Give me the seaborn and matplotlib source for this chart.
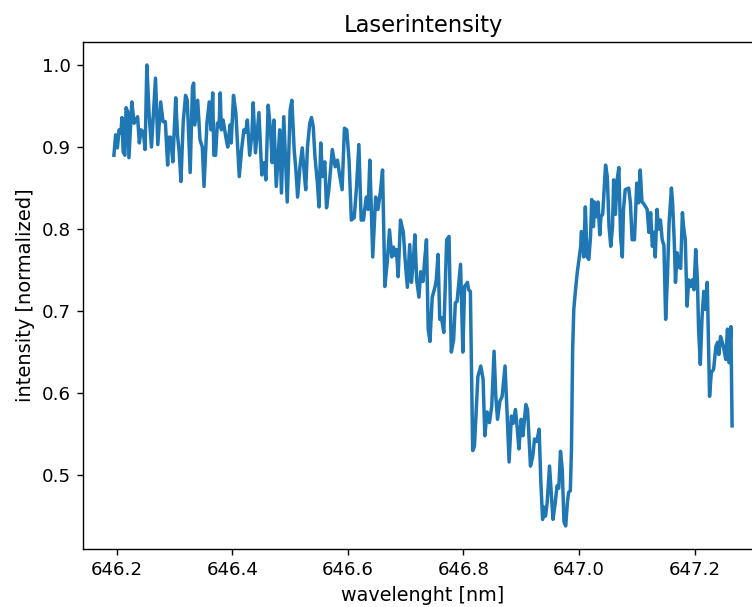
import matplotlib
matplotlib.use("Agg")
import matplotlib.pyplot as plt
import seaborn as sns
import pandas as pd

# Measured spectrum: wavelength [nm] and normalized laser intensity
wavelength = [
    646.195, 646.198, 646.201, 646.204, 646.207, 646.209, 646.211, 646.214, 646.216, 646.219,
    646.221, 646.226, 646.230, 646.236, 646.239, 646.242, 646.246, 646.249, 646.252, 646.256,
    646.260, 646.263, 646.267, 646.271, 646.276, 646.280, 646.284, 646.288, 646.290, 646.293,
    646.297, 646.302, 646.305, 646.308, 646.311, 646.315, 646.319, 646.322, 646.327, 646.331,
    646.333, 646.335, 646.340, 646.344, 646.348, 646.351, 646.356, 646.360, 646.363, 646.366,
    646.368, 646.371, 646.374, 646.377, 646.379, 646.381, 646.384, 646.389, 646.392, 646.396,
    646.398, 646.402, 646.406, 646.412, 646.416, 646.420, 646.423, 646.426, 646.430, 646.434,
    646.436, 646.440, 646.446, 646.451, 646.455, 646.458, 646.462, 646.466, 646.469, 646.472,
    646.476, 646.480, 646.482, 646.485, 646.489, 646.495, 646.500, 646.503, 646.507, 646.510,
    646.513, 646.517, 646.521, 646.524, 646.527, 646.530, 646.534, 646.537, 646.540, 646.543,
    646.547, 646.550, 646.553, 646.556, 646.560, 646.563, 646.567, 646.573, 646.578, 646.582,
    646.585, 646.590, 646.594, 646.598, 646.602, 646.606, 646.611, 646.615, 646.619, 646.623,
    646.627, 646.629, 646.632, 646.635, 646.638, 646.643, 646.648, 646.652, 646.656, 646.660,
    646.664, 646.668, 646.672, 646.676, 646.679, 646.681, 646.684, 646.687, 646.691, 646.696,
    646.699, 646.703, 646.707, 646.710, 646.713, 646.716, 646.719, 646.723, 646.726, 646.730,
    646.733, 646.736, 646.739, 646.742, 646.746, 646.751, 646.753, 646.756, 646.759, 646.762,
    646.766, 646.771, 646.775, 646.779, 646.783, 646.786, 646.789, 646.795, 646.799, 646.802,
    646.807, 646.809, 646.812, 646.816, 646.819, 646.825, 646.830, 646.834, 646.837, 646.841,
    646.845, 646.849, 646.853, 646.856, 646.859, 646.863, 646.867, 646.872, 646.876, 646.879,
    646.883, 646.886, 646.890, 646.893, 646.896, 646.900, 646.903, 646.908, 646.911, 646.916,
    646.920, 646.923, 646.927, 646.931, 646.934, 646.937, 646.939, 646.942, 646.945, 646.949,
    646.952, 646.955, 646.959, 646.962, 646.965, 646.968, 646.971, 646.974, 646.977, 646.980,
    646.982, 646.985, 646.987, 646.989, 646.991, 646.994, 646.997, 647.000, 647.003, 647.004,
    647.007, 647.008, 647.011, 647.014, 647.017, 647.020, 647.022, 647.025, 647.027, 647.030,
    647.033, 647.036, 647.038, 647.041, 647.046, 647.049, 647.052, 647.055, 647.058, 647.060,
    647.063, 647.066, 647.069, 647.072, 647.075, 647.077, 647.080, 647.086, 647.089, 647.092,
    647.096, 647.100, 647.103, 647.106, 647.109, 647.112, 647.118, 647.121, 647.124, 647.127,
    647.130, 647.132, 647.135, 647.138, 647.141, 647.144, 647.147, 647.150, 647.153, 647.156,
    647.160, 647.162, 647.165, 647.167, 647.170, 647.173, 647.176, 647.179, 647.181, 647.184,
    647.187, 647.190, 647.193, 647.196, 647.199, 647.202, 647.205, 647.207, 647.210, 647.213,
    647.216, 647.219, 647.222, 647.223, 647.226, 647.229, 647.233, 647.237, 647.240, 647.242,
    647.245, 647.248, 647.251, 647.254, 647.257, 647.260, 647.263, 647.265,
]

intensity = [
    0.890, 0.915, 0.899, 0.921, 0.917, 0.936, 0.894, 0.890, 0.948, 0.943,
    0.887, 0.955, 0.929, 0.937, 0.905, 0.921, 0.918, 0.897, 1.000, 0.939,
    0.900, 0.937, 0.984, 0.903, 0.955, 0.931, 0.931, 0.878, 0.912, 0.912,
    0.882, 0.960, 0.915, 0.894, 0.858, 0.931, 0.963, 0.957, 0.869, 0.973,
    0.978, 0.927, 0.957, 0.909, 0.900, 0.852, 0.929, 0.955, 0.921, 0.966,
    0.890, 0.890, 0.929, 0.925, 0.966, 0.921, 0.933, 0.911, 0.900, 0.927,
    0.905, 0.963, 0.942, 0.864, 0.897, 0.921, 0.918, 0.933, 0.890, 0.917,
    0.954, 0.893, 0.942, 0.866, 0.881, 0.860, 0.951, 0.921, 0.881, 0.933,
    0.852, 0.897, 0.921, 0.844, 0.937, 0.833, 0.945, 0.957, 0.897, 0.872,
    0.839, 0.876, 0.899, 0.872, 0.848, 0.900, 0.929, 0.936, 0.925, 0.888,
    0.858, 0.827, 0.905, 0.864, 0.882, 0.826, 0.848, 0.897, 0.876, 0.884,
    0.869, 0.848, 0.923, 0.921, 0.884, 0.811, 0.814, 0.852, 0.903, 0.811,
    0.811, 0.824, 0.839, 0.824, 0.884, 0.766, 0.839, 0.824, 0.844, 0.872,
    0.730, 0.759, 0.799, 0.766, 0.778, 0.768, 0.775, 0.742, 0.811, 0.796,
    0.763, 0.729, 0.781, 0.735, 0.759, 0.793, 0.738, 0.717, 0.748, 0.736,
    0.763, 0.787, 0.678, 0.663, 0.717, 0.730, 0.738, 0.769, 0.690, 0.692,
    0.674, 0.787, 0.791, 0.650, 0.665, 0.710, 0.712, 0.757, 0.650, 0.730,
    0.735, 0.726, 0.724, 0.530, 0.535, 0.620, 0.633, 0.617, 0.548, 0.577,
    0.564, 0.584, 0.651, 0.596, 0.568, 0.590, 0.596, 0.633, 0.568, 0.516,
    0.572, 0.563, 0.580, 0.558, 0.532, 0.568, 0.548, 0.586, 0.580, 0.511,
    0.523, 0.544, 0.541, 0.556, 0.491, 0.446, 0.461, 0.450, 0.467, 0.511,
    0.479, 0.446, 0.467, 0.487, 0.484, 0.529, 0.507, 0.443, 0.438, 0.467,
    0.479, 0.481, 0.532, 0.653, 0.702, 0.726, 0.747, 0.763, 0.779, 0.797,
    0.794, 0.766, 0.827, 0.766, 0.763, 0.791, 0.836, 0.803, 0.833, 0.815,
    0.833, 0.793, 0.815, 0.818, 0.878, 0.864, 0.803, 0.779, 0.803, 0.860,
    0.818, 0.860, 0.875, 0.791, 0.766, 0.824, 0.848, 0.850, 0.832, 0.787,
    0.787, 0.856, 0.832, 0.872, 0.833, 0.831, 0.824, 0.796, 0.820, 0.779,
    0.796, 0.766, 0.824, 0.800, 0.811, 0.787, 0.780, 0.690, 0.740, 0.808,
    0.850, 0.832, 0.783, 0.735, 0.771, 0.754, 0.752, 0.820, 0.803, 0.787,
    0.706, 0.738, 0.730, 0.738, 0.726, 0.775, 0.738, 0.678, 0.635, 0.693,
    0.724, 0.702, 0.735, 0.702, 0.596, 0.625, 0.629, 0.657, 0.662, 0.647,
    0.669, 0.662, 0.653, 0.641, 0.678, 0.637, 0.681, 0.560,
]

df = pd.DataFrame({"wavelength": wavelength, "intensity": intensity})

fig = plt.figure(figsize=(752 / 125, 607 / 125), dpi=125)
# the plot area runs slightly past the right edge of the canvas
ax = fig.add_axes([83 / 752, 58 / 607, 680 / 752, 507 / 607])

sns.lineplot(data=df, x="wavelength", y="intensity", ax=ax,
             color="#1f77b4", linewidth=2.0, sort=False, estimator=None)

ax.set_title("Laserintensity", fontsize=13)
ax.set_xlabel("wavelenght [nm]", fontsize=11)
ax.set_ylabel("intensity [normalized]", fontsize=11.2)
ax.tick_params(labelsize=10.5)

fig.savefig("out.png", dpi=125)
